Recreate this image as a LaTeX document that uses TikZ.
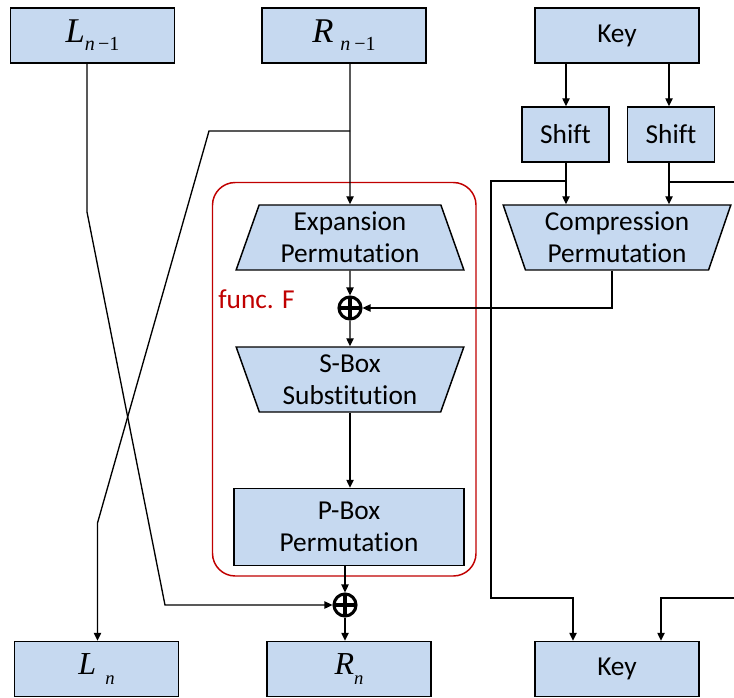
\documentclass[tikz,border=0pt]{standalone}
\usepackage{fontspec}
\setmainfont{Carlito}[Ligatures=NoCommon]
\newfontfamily\timesfont{Liberation Serif}
\usetikzlibrary{arrows.meta,shapes.geometric,calc}
\definecolor{boxfill}{RGB}{198,217,240}
\definecolor{funcred}{RGB}{192,0,0}

\tikzset{
  every node/.style={font=\fontsize{20.5}{24}\selectfont},
  blockbox/.style={draw, fill=boxfill, line width=1.1pt, minimum width=123pt,
    minimum height=41.25pt, align=center, inner sep=0pt},
  shiftbox/.style={blockbox, minimum width=65.25pt},
  trapbox/.style={draw, fill=boxfill, line width=1.1pt, trapezium,
    trapezium stretches=true, trapezium left angle=71, trapezium right angle=71,
    minimum width=171pt, minimum height=48.75pt, align=center, inner sep=0pt},
  trapinv/.style={trapbox, shape border rotate=180},
  xorop/.style={circle, draw, line width=2.3pt, minimum size=16.5pt, inner sep=0pt,
    path picture={\draw[line width=2.3pt]
      (path picture bounding box.north) -- (path picture bounding box.south)
      (path picture bounding box.west) -- (path picture bounding box.east);}},
  wire/.style={line width=1pt},
  conn/.style={wire, -{Triangle[length=6pt,width=5.5pt]}}
}

\begin{document}
\begin{tikzpicture}[x=0.75pt,y=-0.75pt]
  \useasboundingbox (0,0) rectangle (734,698);

  % func. F frame
  \draw[funcred, line width=1.1pt, rounded corners=17pt] (212.5,182.5) rectangle (476,576);
  \node[text=funcred] (funcF) at (256.5,299) {func. F};

  % Inputs
  \node[blockbox] (Lprev) at (92.5,35.5) {\timesfont\fontsize{26}{26}\selectfont\textit{L}\raisebox{-6pt}{\fontsize{15}{15}\selectfont\textit{n}\,−1}};
  \node[blockbox] (Rprev) at (344,35.5) {\timesfont\fontsize{26}{26}\selectfont\textit{R}\hspace{5pt}\raisebox{-6pt}{\fontsize{15}{15}\selectfont\textit{n}\hspace{3pt}−1}};
  \node[blockbox] (KeyIn) at (617,35.5) {Key};

  % Key schedule
  \node[shiftbox] (ShiftA) at (565.5,134.5) {Shift};
  \node[shiftbox] (ShiftB) at (671,134.5) {Shift};
  \node[trapinv] (Comp) at (617,237.5) {Compression\\Permutation};

  % Round function
  \node[trapbox] (Exp) at (350,237.5) {Expansion\\Permutation};
  \node[xorop] (XorK) at (350,308) {};
  \node[trapinv] (SBox) at (350,379.5) {S-Box\\Substitution};
  \node[blockbox, minimum width=172.5pt, minimum height=57.75pt] (PBox) at (349,527) {P-Box\\Permutation};
  \node[xorop] (XorL) at (345,605) {};

  % Outputs
  \node[blockbox] (Lnext) at (96.5,669) {\timesfont\fontsize{24}{24}\selectfont\textit{L}\hspace{7pt}\raisebox{-7.5pt}{\fontsize{14}{14}\selectfont\textit{n}}};
  \node[blockbox] (Rnext) at (349,669) {\timesfont\fontsize{24}{24}\selectfont\textit{R}\raisebox{-7.5pt}{\fontsize{14}{14}\selectfont\textit{n}}};
  \node[blockbox] (KeyOut) at (617,669) {Key};

  % Bend points
  \coordinate (Rsplit) at (350,131);
  \coordinate (Rturn) at (209,131);
  \coordinate (Rdrop) at (97.5,523);
  \coordinate (Lturn) at (87,212);
  \coordinate (Lcross) at (165,605);
  \coordinate (KsplitA) at (566,181);
  \coordinate (KsplitB) at (669,182);
  \coordinate (KloopA) at (491,598);
  \coordinate (KloopB) at (734,598);

  % Data path
  \draw[conn] (Rsplit |- Rprev.south) -- (Exp.north);
  \draw[conn] (Rsplit) -- (Rturn) -- (Rdrop) -- (Rdrop |- Lnext.north);
  \draw[conn] (Lturn |- Lprev.south) -- (Lturn) -- (Lcross) -- (XorL);
  \draw[conn] (Exp) -- (XorK);
  \draw[conn] (XorK) -- (SBox);
  \draw[conn] (SBox.south) -- (SBox.south |- PBox.north);
  \draw[conn] (PBox.south -| XorL) -- (XorL);
  \draw[conn] (XorL) -- (XorL |- Rnext.north);

  % Key path
  \draw[conn] (KeyIn.south -| KsplitA) -- (KsplitA |- ShiftA.north);
  \draw[conn] (KeyIn.south -| KsplitB) -- (KsplitB |- ShiftB.north);
  \draw[conn] (ShiftA.south -| KsplitA) -- (KsplitA |- Comp.north);
  \draw[conn] (ShiftB.south -| KsplitB) -- (KsplitB |- Comp.north);
  \draw[conn] ([xshift=-3.75pt]Comp.south) |- (XorK);
  \draw[conn] (KsplitA) -| (KloopA) -| ([xshift=-33pt]KeyOut.north);
  \draw[wire] (KsplitB) -- (KsplitB -| KloopB);
  \draw[conn] (KloopB) -| ([xshift=33pt]KeyOut.north);
\end{tikzpicture}
\end{document}
